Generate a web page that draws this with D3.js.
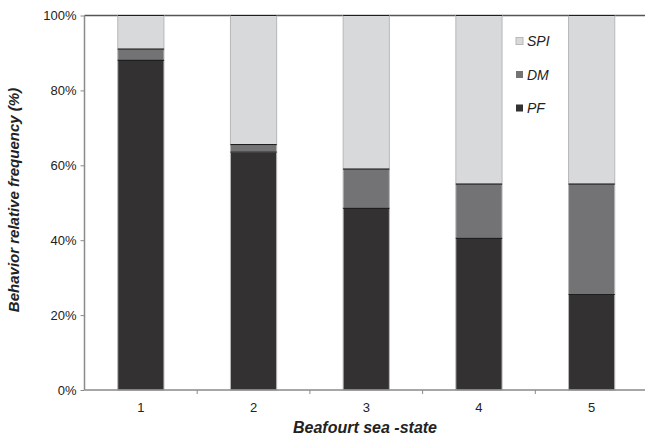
<!DOCTYPE html>
<html>
<head>
<meta charset="utf-8">
<script src="https://cdn.jsdelivr.net/npm/d3@7"></script>
<style>
  body { margin: 0; background: #fff; }
  text { font-family: "Liberation Sans", Arial, sans-serif; }
</style>
</head>
<body>
<div id="chart"></div>
<script>
// Chart data
var seaStates = ["1", "2", "3", "4", "5"];
var pfValues = [88.0, 63.5, 48.5, 40.5, 25.5];
var dmValues = [3.0, 2.0, 10.5, 14.5, 29.5];
var spiValues = [9.0, 34.5, 41.0, 45.0, 45.0];
var yTicks = [0, 20, 40, 60, 80, 100];

var svgWidth = 645;
var svgHeight = 437;

var chartMargin = { top: 15.5, right: -3, bottom: 47, left: 84.5 };
var chartWidth = svgWidth - chartMargin.left - chartMargin.right;
var chartHeight = svgHeight - chartMargin.top - chartMargin.bottom;

var svg = d3.select("#chart")
  .append("svg")
  .attr("width", svgWidth)
  .attr("height", svgHeight);

var chartGroup = svg.append("g")
  .attr("transform", `translate(${chartMargin.left}, ${chartMargin.top})`);

var xScale = d3.scaleBand()
  .domain(seaStates)
  .range([0, chartWidth])
  .paddingInner(0.59)
  .paddingOuter(0.295);

var yScale = d3.scaleLinear()
  .domain([0, 100])
  .range([chartHeight, 0]);

// stack the three behaviours
var rows = seaStates.map(function(s, i) {
  return { state: s, PF: pfValues[i], DM: dmValues[i], SPI: spiValues[i] };
});
var keys = ["PF", "DM", "SPI"];
var colors = { PF: "#333132", DM: "#737376", SPI: "#d8d9db" };
var stacked = d3.stack().keys(keys)(rows);
var segments = [];
stacked.forEach(function(layer) {
  layer.forEach(function(p) { segments.push({ key: layer.key, p: p }); });
});

// top border of the plot area
chartGroup.append("line")
  .attr("x1", 0).attr("x2", svgWidth - chartMargin.left)
  .attr("y1", 0).attr("y2", 0)
  .attr("stroke", "#555")
  .attr("stroke-width", 1.5);

chartGroup.selectAll(".seg")
  .data(segments)
  .enter()
  .append("rect")
  .attr("class", "seg")
  .attr("x", d => xScale(d.p.data.state))
  .attr("y", d => yScale(d.p[1]))
  .attr("width", xScale.bandwidth())
  .attr("height", d => yScale(d.p[0]) - yScale(d.p[1]))
  .attr("fill", d => colors[d.key])
  .attr("stroke", "#b8b8b8")
  .attr("stroke-width", 1);

// dark edge on top of every segment, drawn after all rects
chartGroup.selectAll(".edge")
  .data(segments)
  .enter()
  .append("line")
  .attr("class", "edge")
  .attr("x1", d => xScale(d.p.data.state))
  .attr("x2", d => xScale(d.p.data.state) + xScale.bandwidth())
  .attr("y1", d => yScale(d.p[1]))
  .attr("y2", d => yScale(d.p[1]))
  .attr("stroke", "#1e1e1e")
  .attr("stroke-width", 1.2);

// y axis
var leftAxis = d3.axisLeft(yScale)
  .tickValues(yTicks)
  .tickSize(4)
  .tickPadding(4)
  .tickFormat(d => d + "%");

var yAxisG = chartGroup.append("g").call(leftAxis);
yAxisG.select(".domain").attr("stroke", "#8a8a8a").attr("stroke-width", 1.5)
  .attr("d", `M0,${chartHeight}V0`);
yAxisG.selectAll(".tick line").attr("stroke", "#8a8a8a");
yAxisG.selectAll(".tick text")
  .attr("fill", "#222")
  .style("font-size", "13px");

// x axis: ticks sit between the bars
var step = xScale.step();
var bottomAxis = d3.axisBottom(xScale).tickSize(0).tickPadding(13);
var xAxisG = chartGroup.append("g")
  .attr("transform", `translate(0, ${chartHeight})`)
  .call(bottomAxis);
xAxisG.select(".domain").attr("stroke", "#8a8a8a").attr("stroke-width", 1.5)
  .attr("d", `M0,0H${svgWidth - chartMargin.left}`);
xAxisG.selectAll(".tick text")
  .attr("fill", "#222")
  .style("font-size", "13px");
xAxisG.selectAll(".sep")
  .data(d3.range(1, seaStates.length))
  .enter()
  .append("line")
  .attr("class", "sep")
  .attr("x1", i => i * step).attr("x2", i => i * step)
  .attr("y1", 0).attr("y2", 4)
  .attr("stroke", "#8a8a8a");

// legend
var legendKeys = ["SPI", "DM", "PF"];
var legendY = [41, 74.5, 108];
var legend = svg.append("g");
legendKeys.forEach(function(k, i) {
  legend.append("rect")
    .attr("x", 516).attr("y", legendY[i] - 3.5)
    .attr("width", 7).attr("height", 7)
    .attr("fill", colors[k])
    .attr("stroke", k === "SPI" ? "#b8b8b8" : "none");
  legend.append("text")
    .attr("x", 527).attr("y", legendY[i] + 5)
    .style("font-size", "14px")
    .style("font-style", "italic")
    .attr("fill", "#222")
    .text(k);
});

// axis titles
svg.append("text")
  .attr("transform", "translate(19, 200) rotate(-90)")
  .style("text-anchor", "middle")
  .style("font-size", "15px")
  .style("font-weight", "bold")
  .style("font-style", "italic")
  .attr("fill", "#222")
  .text("Behavior relative frequency (%)");

svg.append("text")
  .attr("x", 365)
  .attr("y", 433)
  .style("text-anchor", "middle")
  .style("font-size", "16px")
  .style("font-weight", "bold")
  .style("font-style", "italic")
  .attr("fill", "#222")
  .text("Beafourt sea -state");
</script>
</body>
</html>
